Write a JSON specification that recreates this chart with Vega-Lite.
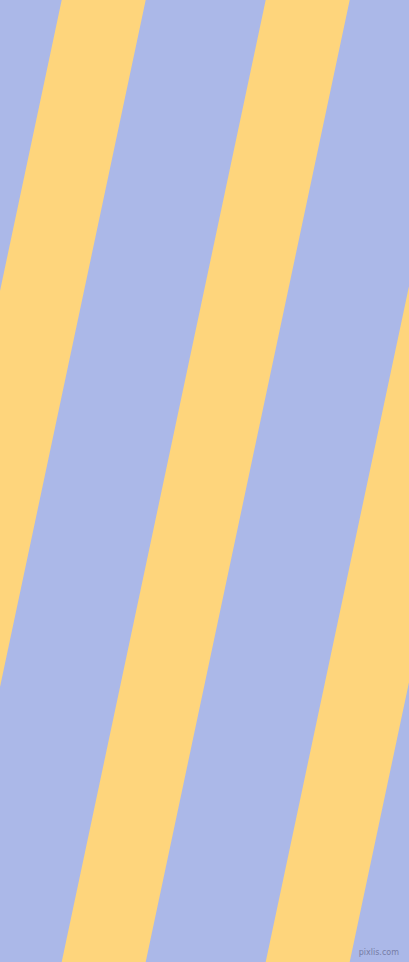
{
  "$schema": "https://vega.github.io/schema/vega-lite/v6.json",
  "autosize": {"type": "fit", "contains": "padding"},
  "width": 409,
  "height": 962,
  "padding": 0,
  "background": "#abb8e8",
  "config": {"view": {"stroke": null}},
  "layer": [
    {
      "data": {
        "values": [
          {"stripe": "A", "pos": 0, "left": 61.7, "right": 145.7},
          {"stripe": "A", "pos": 962, "left": -142.3, "right": -58.3},
          {"stripe": "B", "pos": 0, "left": 265.7, "right": 349.7},
          {"stripe": "B", "pos": 962, "left": 61.7, "right": 145.7},
          {"stripe": "C", "pos": 0, "left": 469.7, "right": 553.7},
          {"stripe": "C", "pos": 962, "left": 265.7, "right": 349.7}
        ]
      },
      "mark": {"type": "area", "orient": "horizontal", "color": "#fed57c", "clip": true},
      "encoding": {
        "y": {"field": "pos", "type": "quantitative", "scale": {"domain": [0, 962], "reverse": true, "nice": false}, "axis": null},
        "x": {"field": "left", "type": "quantitative", "scale": {"domain": [0, 409], "nice": false, "zero": false}, "axis": null},
        "x2": {"field": "right"},
        "detail": {"field": "stripe"}
      }
    },
    {
      "data": {"values": [{"label": "pixlis.com", "px": 399, "py": 953}]},
      "mark": {"type": "text", "align": "right", "baseline": "middle", "font": "DejaVu Sans", "fontSize": 8, "color": "#767ca6"},
      "encoding": {
        "x": {"field": "px", "type": "quantitative"},
        "y": {"field": "py", "type": "quantitative"},
        "text": {"field": "label"}
      }
    }
  ]
}
